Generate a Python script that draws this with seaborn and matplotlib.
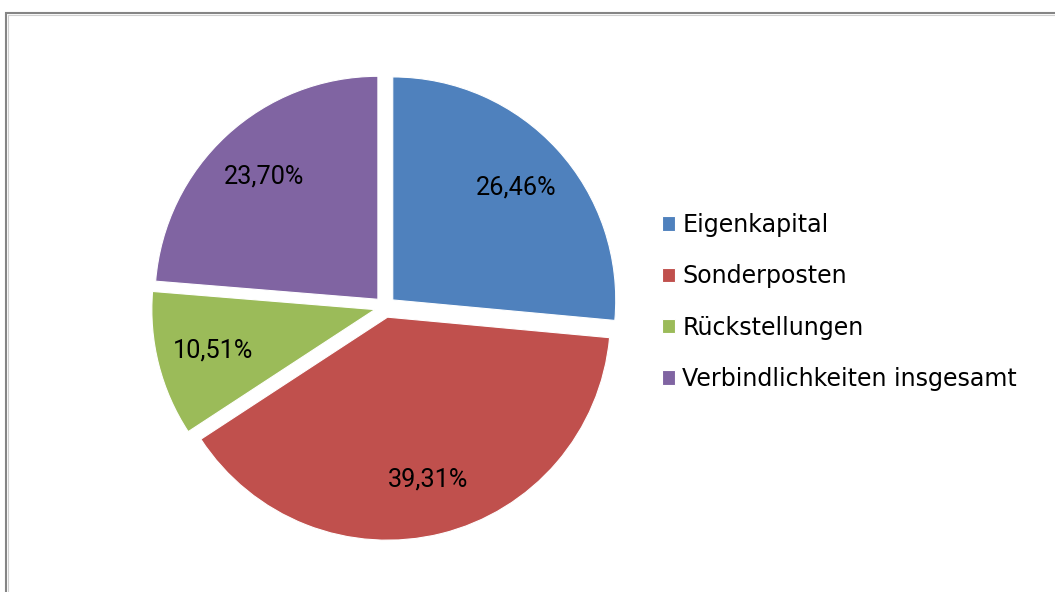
import matplotlib.pyplot as plt
import seaborn as sns
from matplotlib.patches import Rectangle

plt.switch_backend("Agg")
sns.set_theme(style="white")
plt.rcParams["font.family"] = ["DejaVu Sans"]

categories = ["Eigenkapital", "Sonderposten", "Rückstellungen", "Verbindlichkeiten insgesamt"]
shares = [26.46, 39.31, 10.51, 23.70]
share_labels = ["26,46%", "39,31%", "10,51%", "23,70%"]
colors = ["#4F81BD", "#C0504D", "#9BBB59", "#8064A2"]

W, H = 1055, 592
fig = plt.figure(figsize=(W / 100, H / 100), dpi=100)
fig.patch.set_facecolor("white")

# pie centre (385, 307) px from top-left, radius ~223 px; pie axes span 2.5 radii
radius_px = 223
side = 2.5 * radius_px
cx, cy = 385, H - 307
ax = fig.add_axes([(cx - side / 2) / W, (cy - side / 2) / H, side / W, side / H])

wedges, texts, autotexts = ax.pie(
    shares,
    colors=sns.color_palette(colors),
    startangle=90,
    counterclock=False,
    explode=[0.047] * len(shares),
    autopct="%.2f%%",
    pctdistance=0.75,
    wedgeprops={"linewidth": 0.8, "edgecolor": "white"},
    textprops={"family": ["Roboto", "DejaVu Sans"], "fontsize": 18.2, "color": "black"},
)
for t, lab in zip(autotexts, share_labels):
    t.set_text(lab)

leg = fig.legend(
    wedges,
    categories,
    loc="center left",
    bbox_to_anchor=(662 / W, 1 - 302 / H),
    frameon=False,
    fontsize=17.1,
    handlelength=0.55,
    handleheight=0.55,
    handletextpad=0.3,
    labelspacing=1.15,
    borderpad=0,
    borderaxespad=0,
)
for t in leg.get_texts():
    t.set_color("black")

# chart area frame (extends past right and bottom edges)
fig.patches.append(Rectangle((5.5 / W, -0.05), 1.1, 1.05 - 12.5 / H, transform=fig.transFigure,
                             fill=False, edgecolor="#858585", linewidth=1.5, zorder=0))
fig.patches.append(Rectangle((7.5 / W, -0.05), 1.1, 1.05 - 14.5 / H, transform=fig.transFigure,
                             fill=False, edgecolor="#cfcfcf", linewidth=0.8, zorder=0))

fig.savefig("out.png", dpi=100)
plt.close(fig)
